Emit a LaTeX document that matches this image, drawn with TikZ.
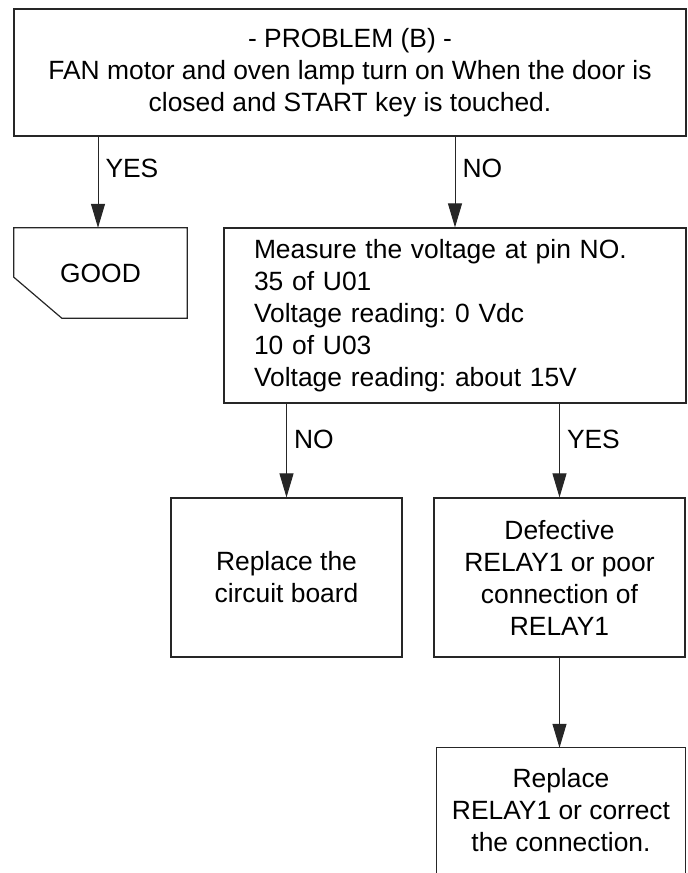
\documentclass[tikz,border=0pt]{standalone}
\usepackage{fontspec}
\setmainfont{Liberation Sans}
\usetikzlibrary{arrows.meta}
\begin{document}
\frenchspacing
\begin{tikzpicture}[x=1pt,y=-1pt,
  txt/.style={font=\fontsize{26.4}{32}\selectfont, align=center, inner sep=0pt},
  box/.style={txt, draw=black!85, line width=1.2pt, rectangle},
  edge/.style={draw=black!85, line width=1.2pt},
  conn/.style={draw=black!85, line width=1pt, -{Triangle[length=24pt,width=14pt]}},
  lbl/.style={font=\fontsize{26.4}{32}\selectfont, inner sep=0pt, anchor=west, xshift=7pt}]
\useasboundingbox (0,0) rectangle (688,873);
\node[box, minimum width=672pt, minimum height=127pt] (top) at (350,72.5)
  {- PROBLEM (B) -\\FAN motor and oven lamp turn on When the door is\\closed and START key is touched.};
\node[txt, minimum width=173pt, minimum height=90pt] (good) at (100.5,273) {GOOD};
\draw[edge] (good.north west) -- (good.north east) -- (good.south east)
  -- ([xshift=48pt]good.south west) -- ([yshift=41pt]good.south west) -- cycle;
\node[box, minimum width=462pt, minimum height=175pt, align=left, text width=402pt] (meas) at (455,315.5)
  {Measure the voltage at pin NO.\\35 of U01\\Voltage reading: 0 Vdc\\10 of U03\\Voltage reading: about 15V};
\node[box, minimum width=231pt, minimum height=159pt] (circ) at (286.5,577.5) {Replace the\\circuit board};
\node[box, minimum width=251pt, minimum height=159pt] (def) at (559.5,577.5)
  {Defective\\RELAY1 or poor\\connection of\\RELAY1};
\node[txt, minimum width=248pt, minimum height=124pt] (rep) at (561,810)
  {Replace\\RELAY1 or correct\\the connection.};
\draw[edge] ([yshift=-10pt]rep.south west) -- (rep.north west) -- (rep.north east) -- ([yshift=-10pt]rep.south east);
\draw[conn] ([xshift=-2.5pt]top.south -| good.north) -- ([xshift=-2.5pt]good.north) node[lbl, pos=0.35] {YES};
\draw[conn] (top.south -| meas.north) -- (meas.north) node[lbl, pos=0.35] {NO};
\draw[conn] (meas.south -| circ.north) -- (circ.north) node[lbl, pos=0.38] {NO};
\draw[conn] (meas.south -| def.north) -- (def.north) node[lbl, pos=0.38] {YES};
\draw[conn] (def.south) -- (def.south |- rep.north);
\end{tikzpicture}
\end{document}
